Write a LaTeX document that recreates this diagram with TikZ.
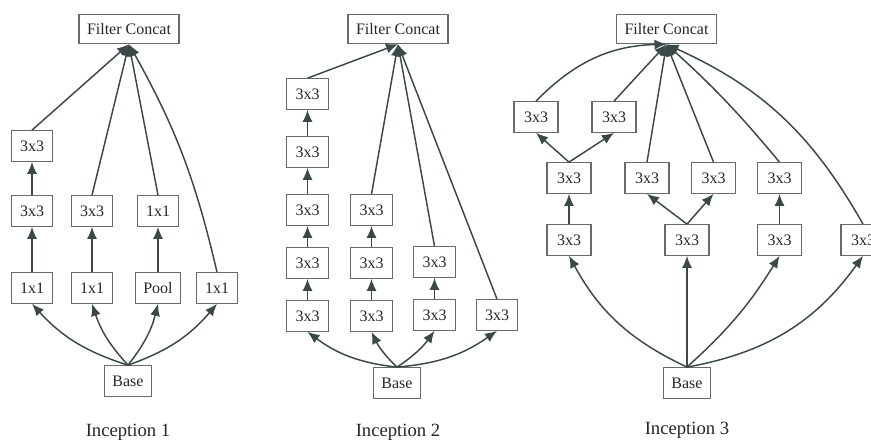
\documentclass[tikz,border=0pt]{standalone}
\usepackage{fontspec}
\setmainfont{Liberation Serif}
\usetikzlibrary{arrows.meta}
\definecolor{edgegray}{HTML}{3A4848}
\definecolor{boxgray}{HTML}{6A6A6A}

\begin{document}
\begin{tikzpicture}[x=0.75pt, y=0.75pt,
        block/.style={draw=boxgray, line width=0.8pt, minimum width=31pt, minimum height=23pt,
                      inner xsep=6pt, text=black!85, font=\fontsize{12}{14}\selectfont},
        wblock/.style={block, minimum width=33pt},
        concat/.style={block, minimum height=22pt},
        title/.style={text=black!85, font=\fontsize{14}{16}\selectfont},
        flow/.style={draw=edgegray, line width=1.1pt, -{Latex[length=9pt,width=7.5pt]}},
    ]
        \useasboundingbox (0,0) rectangle (871,442);

        % Inception 1
        \node[concat] (fc1)   at (129, 413) {Filter Concat};
        \node[block]  (a1)    at (32, 296)  {3x3};
        \node[block]  (a2)    at (32, 231)  {3x3};
        \node[block]  (a3)    at (32, 154)  {1x1};
        \node[block]  (b2)    at (92, 231)  {3x3};
        \node[block]  (b3)    at (92, 154)  {1x1};
        \node[block]  (c2)    at (158, 231) {1x1};
        \node[block]  (c3)    at (158, 154) {Pool};
        \node[block]  (d3)    at (217, 154) {1x1};
        \node[block]  (base1) at (128, 61)  {Base};
        \node[title]  (t1)    at (128, 10)  {Inception 1};

        \draw[flow] (base1.north) to[bend left=15]  (a3.south);
        \draw[flow] (base1.north) to[bend left=12]  (b3.south);
        \draw[flow] (base1.north) to[bend right=12] (c3.south);
        \draw[flow] (base1.north) to[bend right=15] (d3.south);
        \draw[flow] (a3) -- (a2);
        \draw[flow] (a2) -- (a1);
        \draw[flow] (b3) -- (b2);
        \draw[flow] (c3) -- (c2);
        \draw[flow] (a1.north) -- (fc1.south);
        \draw[flow] (b2.north) -- (fc1.south);
        \draw[flow] (c2.north) -- (fc1.south);
        \draw[flow] (d3.north) to[bend right=8] (fc1.south);

        % Inception 2
        \node[concat] (fc2)   at (398, 413)   {Filter Concat};
        \node[block]  (e1)    at (307.5, 348) {3x3};
        \node[block]  (e2)    at (307.5, 290) {3x3};
        \node[block]  (e3)    at (307.5, 232) {3x3};
        \node[block]  (e4)    at (307.5, 179) {3x3};
        \node[block]  (e5)    at (307.5, 126) {3x3};
        \node[block]  (f3)    at (371.5, 232) {3x3};
        \node[block]  (f4)    at (371.5, 179) {3x3};
        \node[block]  (f5)    at (371.5, 126) {3x3};
        \node[block]  (g4)    at (434.5, 180) {3x3};
        \node[block]  (g5)    at (434.5, 127) {3x3};
        \node[block]  (h5)    at (497, 127)   {3x3};
        \node[block]  (base2) at (397, 59)    {Base};
        \node[title]  (t2)    at (398, 10)    {Inception 2};

        \draw[flow] (base2.north) to[bend left=15]  (e5.south);
        \draw[flow] (base2.north) to[bend left=10]  (f5.south);
        \draw[flow] (base2.north) to[bend right=10] (g5.south);
        \draw[flow] (base2.north) to[bend right=15] (h5.south);
        \draw[flow] (e5) -- (e4);
        \draw[flow] (e4) -- (e3);
        \draw[flow] (e3) -- (e2);
        \draw[flow] (e2) -- (e1);
        \draw[flow] (f5) -- (f4);
        \draw[flow] (f4) -- (f3);
        \draw[flow] (g5) -- (g4);
        \draw[flow] (e1.north) -- (fc2.south);
        \draw[flow] (f3.north) -- (fc2.south);
        \draw[flow] (g4.north) -- (fc2.south);
        \draw[flow] (h5.north) -- (fc2.south);

        % Inception 3
        \node[concat] (fc3)   at (666.5, 413) {Filter Concat};
        \node[wblock] (p1)    at (536, 325)   {3x3};
        \node[wblock] (q1)    at (614, 325)   {3x3};
        \node[wblock] (r2)    at (569, 264)   {3x3};
        \node[wblock] (s2)    at (647, 264)   {3x3};
        \node[wblock] (u2)    at (713.5, 264) {3x3};
        \node[wblock] (v2)    at (779.5, 264) {3x3};
        \node[wblock] (r3)    at (569, 202)   {3x3};
        \node[wblock] (s3)    at (687, 202)   {3x3};
        \node[wblock] (v3)    at (779.5, 202) {3x3};
        \node[wblock] (w3)    at (863, 202)   {3x3};
        \node[block]  (base3) at (687, 59)    {Base};
        \node[title]  (t3)    at (687, 12)    {Inception 3};

        \draw[flow] (base3.north) to[bend left=18]  (r3.south);
        \draw[flow] (base3.north) -- (s3.south);
        \draw[flow] (base3.north) to[bend right=8]  (v3.south);
        \draw[flow] (base3.north) to[bend right=22] (w3.south);
        \draw[flow] (r3) -- (r2);
        \draw[flow] (r2.north) -- (p1.south);
        \draw[flow] (r2.north) -- (q1.south);
        \draw[flow] (s3.north) -- (s2.south);
        \draw[flow] (s3.north) -- (u2.south);
        \draw[flow] (v3) -- (v2);
        \draw[flow] (p1.north) to[bend left=22] (fc3.south);
        \draw[flow] (q1.north) -- (fc3.south);
        \draw[flow] (s2.north) -- (fc3.south);
        \draw[flow] (u2.north) -- (fc3.south);
        \draw[flow] (v2.north) to[bend right=4] (fc3.south);
        \draw[flow] (w3.north) to[bend right=18] (fc3.south);
    \end{tikzpicture}
\end{document}
